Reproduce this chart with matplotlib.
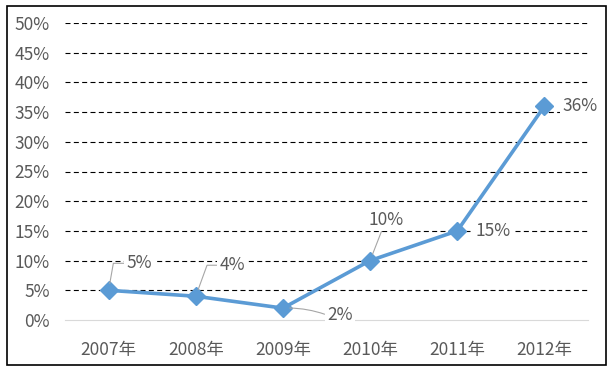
import matplotlib
matplotlib.use("Agg")
import matplotlib.pyplot as plt
from matplotlib.patches import Rectangle
from matplotlib.ticker import FuncFormatter, MultipleLocator

years = ["2007年", "2008年", "2009年", "2010年", "2011年", "2012年"]
values = [0.05, 0.04, 0.02, 0.10, 0.15, 0.36]
labels = ["5%", "4%", "2%", "10%", "15%", "36%"]

plt.rcParams['font.family'] = ['Noto Sans CJK SC', 'DejaVu Sans']
txt = '#595959'
blue = '#5B9BD5'

fig = plt.figure(figsize=(6.15, 3.71), dpi=100)
ax = fig.add_axes([65/615, 51/371, 523/615, 297/371])
fig.patches.append(Rectangle((7/615, 6/371), 599/615, 359/371, transform=fig.transFigure,
                             fill=False, edgecolor='black', linewidth=1.2))

x = list(range(len(years)))
ax.plot(x, values, color=blue, lw=2.6, marker='D', markersize=9, zorder=3)

ax.set_xlim(-0.5, len(years) - 0.5)
ax.set_ylim(0, 0.5)
ax.yaxis.set_major_locator(MultipleLocator(0.05))
ax.yaxis.set_major_formatter(FuncFormatter(lambda v, p: f"{round(v*100)}%"))
ax.set_xticks(x)
ax.set_xticklabels(years)
for s in ['top', 'right', 'left']:
    ax.spines[s].set_visible(False)
ax.spines['bottom'].set_color('#d9d9d9')
ax.tick_params(length=0, labelsize=12.5, labelcolor=txt)
ax.tick_params(axis='x', pad=15)
ax.tick_params(axis='y', pad=11)
for v in [0.05 * i for i in range(1, 11)]:
    ax.axhline(v, color='black', lw=0.8, ls=(0, (4.5, 3)), zorder=1)

offsets = [(31, 27), (37, 31), (57, -7), (16, 41), (36, 0), (36, 0)]
leaders = [
    dict(relpos=(0, 0.5), connectionstyle="angle,angleA=0,angleB=80,rad=0"),
    dict(relpos=(0, 0.5), connectionstyle="angle,angleA=0,angleB=70,rad=0"),
    dict(relpos=(0, 0.5), connectionstyle="arc3,rad=0.1"),
    dict(relpos=(0.4, 0), connectionstyle="arc3,rad=0"),
    None, None,
]
for xi, v, lab, off, ld in zip(x, values, labels, offsets, leaders):
    kw = {}
    if ld is not None:
        kw['arrowprops'] = dict(arrowstyle='-', color='#a6a6a6', lw=0.8,
                                shrinkA=0, shrinkB=5, **ld)
    ax.annotate(lab, xy=(xi, v), xytext=off, textcoords='offset pixels',
                ha='center', va='center', fontsize=12.5, color=txt,
                bbox=dict(boxstyle='square,pad=0.15', fc='white', ec='none'),
                zorder=4, **kw)

fig.savefig("out.png", dpi=100)
